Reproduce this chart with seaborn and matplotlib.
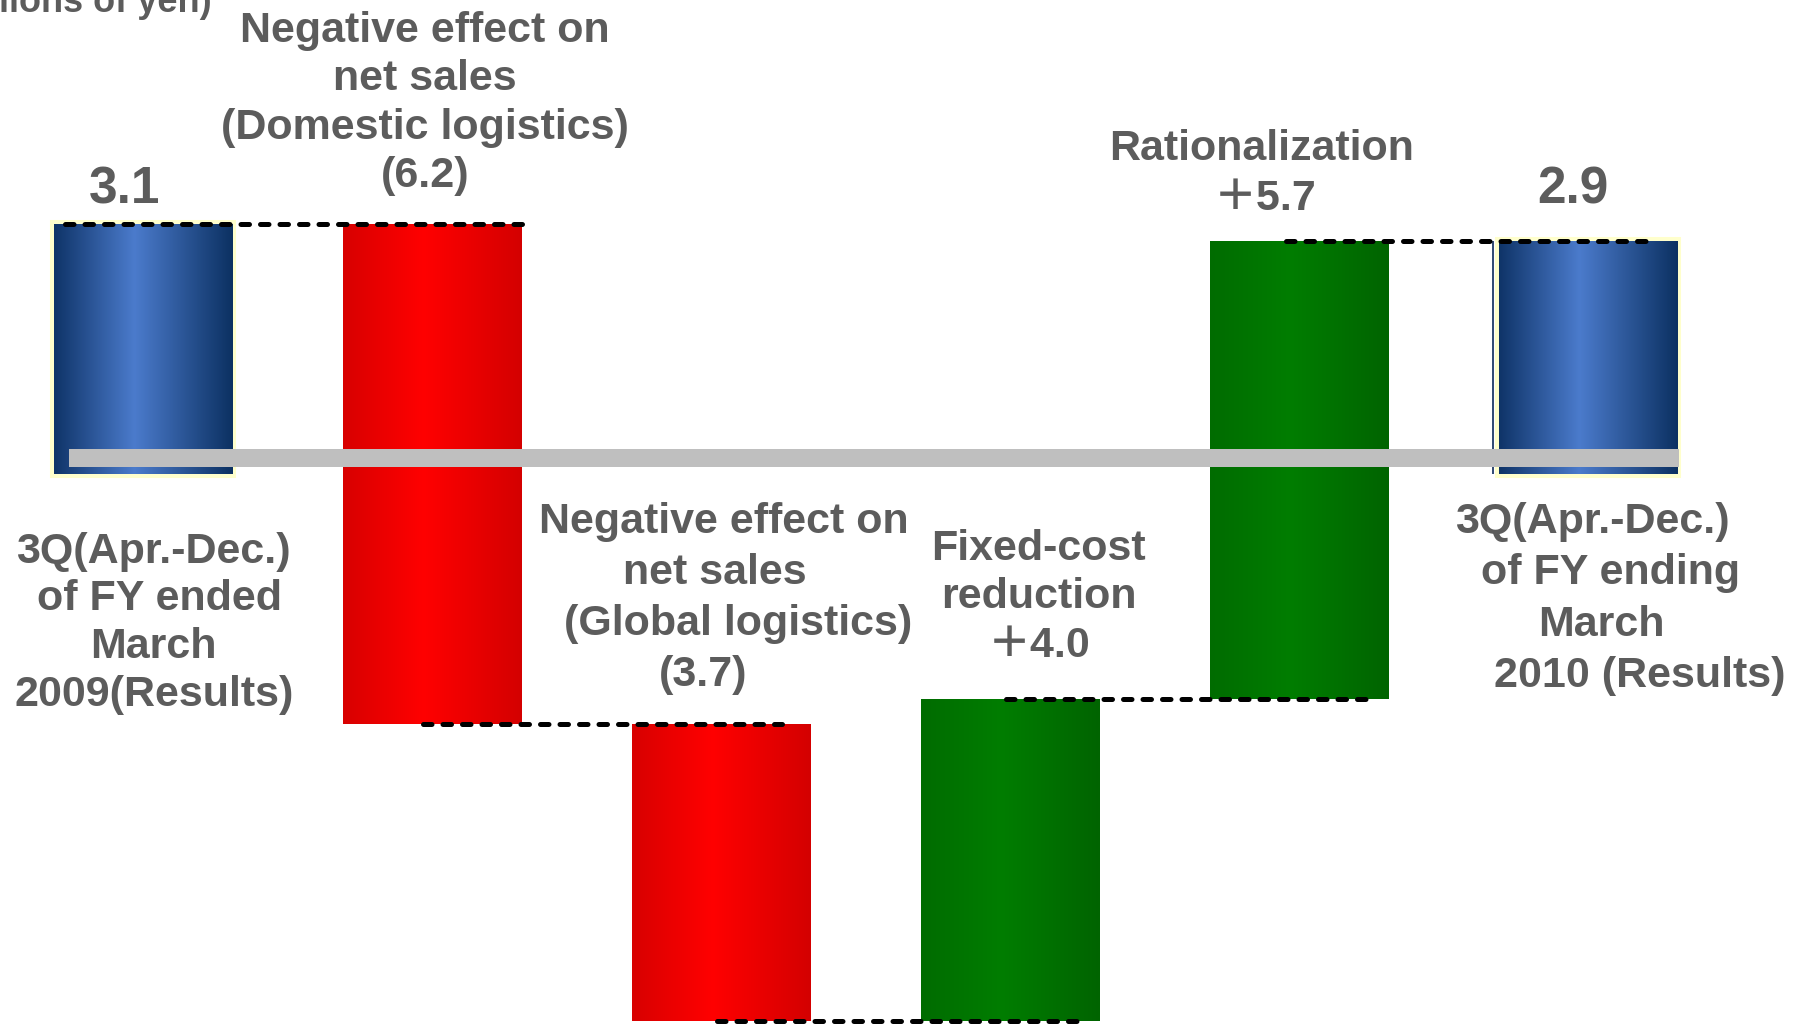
import numpy as np
import pandas as pd
import matplotlib
matplotlib.use("Agg")
import matplotlib.pyplot as plt
import seaborn as sns
from matplotlib.colors import LinearSegmentedColormap

# ---- data (billions of yen) ----
steps = ["FY2009 3Q", "Domestic", "Global", "Fixed cost", "Rationalization", "FY2010 3Q"]
start_value = 3.1
changes = [-6.2, -3.7, 4.0, 5.7]
end_value = 2.9

start_label = ["3Q(Apr.-Dec.)", "of FY ended", "March", "2009(Results)"]
end_label = ["3Q(Apr.-Dec.)", " of FY ending", "March", " 2010 (Results)"]
change_names = [
    ["Negative effect on", "net sales", "(Domestic logistics)"],
    ["Negative effect on", "net sales", " (Global logistics)"],
    ["Fixed-cost", "reduction"],
    ["Rationalization"],
]
unit_label = "(Billions of yen)"

# ---- waterfall geometry derived from the data ----
levels = np.concatenate([[start_value], start_value + np.cumsum(changes)])
heights = [start_value] + changes + [end_value]
bottoms = [0.0] + list(levels[:-1]) + [0.0]
kinds = ["total"] + ["down" if c < 0 else "up" for c in changes] + ["total"]
df = pd.DataFrame({"step": steps, "height": heights, "kind": kinds})


def change_text(v):
    return f"({abs(v):.1f})" if v < 0 else f"\uff0b{v:.1f}"


sns.set_style("white")
plt.rcParams["font.family"] = ["Liberation Sans", "Noto Sans CJK JP"]

TEXT = "#5c5c5c"
LABEL_SIZE = 31

fig = plt.figure(figsize=(17.96, 10.24), dpi=100)
ax = fig.add_axes([0, 0, 1, 1])

sns.barplot(data=df, x="step", y="height", order=steps, color="#888888",
            saturation=1, width=0.616, errorbar=None, ax=ax)

# horizontal shading for each bar type
shades = {
    "total": LinearSegmentedColormap.from_list(
        "tot", [(0, "#0f3468"), (0.45, "#4b7bcc"), (1, "#0c3162")]),
    "down": LinearSegmentedColormap.from_list(
        "down", [(0, "#d80000"), (0.45, "#ff0000"), (1, "#d40000")]),
    "up": LinearSegmentedColormap.from_list(
        "up", [(0, "#006c00"), (0.45, "#007d00"), (1, "#006400")]),
}
ramp = np.linspace(0, 1, 256).reshape(1, -1)

bars = list(ax.patches)
for patch, b, kind in zip(bars, bottoms, kinds):
    patch.set_y(b)
    patch.set_zorder(1)
    if kind == "total":
        patch.set_edgecolor("#ffffcc")
        patch.set_linewidth(5.8)
    else:
        patch.set_linewidth(0)
    x0 = patch.get_x()
    x1 = x0 + patch.get_width()
    y_lo = min(patch.get_y(), patch.get_y() + patch.get_height())
    y_hi = max(patch.get_y(), patch.get_y() + patch.get_height())
    im = ax.imshow(ramp, cmap=shades[kind], extent=(x0, x1, y_lo, y_hi),
                   aspect="auto", interpolation="bilinear", zorder=1.5)
    im.set_clip_path(patch)

# thin dark rule on the left of the closing bar
last = bars[-1]
ax.plot([last.get_x() - 0.021] * 2, [0, end_value], color="#0d2a5a",
        lw=1.2, zorder=1.2, solid_capstyle="butt")

# grey baseline band
ax.fill_between([-0.256, 5.315], 0.087, 0.311, color="#bfbfbf", lw=0, zorder=3)

# dashed connectors between consecutive bars
conn_start = [-0.27, -0.03, -0.014, -0.014, -0.045]
conn_end = [0.31, 0.21, 0.232, 0.232, 0.20]
for i, lvl in enumerate(levels):
    ax.plot([i + conn_start[i], i + 1 + conn_end[i]], [lvl, lvl],
            color="black", lw=3.6, dashes=(1.7, 2.2),
            dash_capstyle="round", zorder=4)


def put_lines(lines, xs, y0, step, size=LABEL_SIZE):
    for k, (line, x) in enumerate(zip(lines, xs)):
        ax.text(x, y0 - k * step, line, ha="center", va="baseline",
                fontsize=size, fontweight="bold", color=TEXT, zorder=5)


# totals
ax.text(-0.064, 3.366, f"{start_value:.1f}", ha="center", va="baseline",
        fontsize=37, fontweight="bold", color=TEXT, zorder=5)
ax.text(4.948, 3.354, f"{end_value:.1f}", ha="center", va="baseline",
        fontsize=37, fontweight="bold", color=TEXT, zorder=5)

# change labels
label_x = [
    [0.976, 0.976, 0.976, 0.976],
    [2.010, 1.979, 2.040, 1.938],
    [3.100, 3.100, 3.100],
    [3.872, 3.882],
]
label_y0 = [5.366, -0.733, -1.068, 3.90]
label_step = [0.60, 0.635, 0.60, 0.62]
for names, v, xs, y0, st in zip(change_names, changes, label_x, label_y0, label_step):
    put_lines(names + [change_text(v)], xs, y0, st)

# period labels under the total bars
put_lines(start_label, [0.036, 0.057, 0.036, 0.038], -1.10, 0.595)
put_lines(end_label, [5.015, 5.058, 5.046, 5.158], -0.733, 0.638)

# unit
ax.text(0.239, 5.739, unit_label, ha="right", va="baseline", fontsize=26,
        fontweight="bold", color=TEXT, zorder=5)

ax.set_xlim(-0.4948, 5.7197)
ax.set_ylim(-6.832, 5.888)
ax.set_axis_off()

fig.savefig("out.png", dpi=100)
